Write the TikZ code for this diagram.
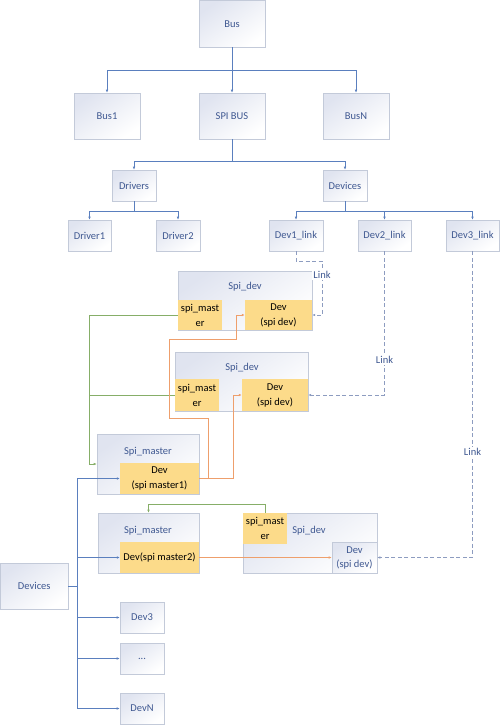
\documentclass[tikz,border=0pt]{standalone}
\usepackage{fontspec}
\setmainfont{Carlito}
\usetikzlibrary{arrows.meta}
\definecolor{txtb}{HTML}{3F5891}
\definecolor{bord}{HTML}{C3CAD9}
\definecolor{btop}{HTML}{E0E4F0}
\definecolor{yel}{HTML}{FCDB8A}
\definecolor{lnb}{HTML}{5A7FBE}
\definecolor{lng}{HTML}{86AE68}
\definecolor{lno}{HTML}{EE9F6C}
\definecolor{lnd}{HTML}{8D9CC0}
\tikzset{
  bx/.style={draw=bord, line width=0.6pt, top color=btop, bottom color=white, shading angle=35,
    inner sep=0pt, text=txtb, align=center, font=\fontsize{10.5}{14}\selectfont},
  yb/.style={fill=yel, inner sep=0pt, text=black, align=center, font=\fontsize{10.5}{15}\selectfont},
  lbl/.style={text=txtb, inner sep=1pt, font=\fontsize{10.5}{14}\selectfont},
  tip/.style={-{Latex[length=3pt,width=2.6pt]}},
  cb/.style={draw=lnb, line width=0.6pt},
  cg/.style={draw=lng, line width=0.6pt},
  co/.style={draw=lno, line width=0.6pt},
  cd/.style={draw=lnd, line width=0.6pt, dash pattern=on 4pt off 2.5pt},
}
\newcommand{\bxat}[7]{% name, x1,y1,x2,y2, style, text
  \node[#6, minimum width=#4pt-#2pt, minimum height=#5pt-#3pt] (#1) at ({(#2+#4)/2},{(#3+#5)/2}) {#7};}
\begin{document}
\begin{tikzpicture}[x=1pt,y=-1pt]
\useasboundingbox[fill=white] (0,0) rectangle (500,725);
% top tree
\bxat{bus}{199}{0.5}{265}{47}{bx}{Bus}
\bxat{bus1}{74}{93}{140}{139}{bx}{Bus1}
\bxat{spibus}{199}{93}{265}{139}{bx}{SPI BUS}
\bxat{busn}{323}{93}{389}{139}{bx}{BusN}
\bxat{drivers}{112}{170}{156}{201}{bx}{Drivers}
\bxat{devt}{323}{170}{367}{201}{bx}{Devices}
\bxat{driver1}{68}{220}{111}{251}{bx}{Driver1}
\bxat{driver2}{156}{220}{200}{251}{bx}{Driver2}
\bxat{dl1}{269}{220}{323}{251}{bx}{Dev1\_link}
\bxat{dl2}{358}{220}{411}{251}{bx}{Dev2\_link}
\bxat{dl3}{446}{220}{499}{251}{bx}{Dev3\_link}
% spi_dev 1
\bxat{sd1}{178}{271}{312}{330}{bx}{}
\node[lbl] (sd1t) at (245,287) {Spi\_dev};
\bxat{sm1}{178}{300}{222}{330}{yb}{spi\_mast\\er}
\bxat{dv1}{245}{300}{312}{330}{yb}{Dev\\(spi dev)}
% spi_dev 2
\bxat{sd2}{175}{352}{308}{411}{bx}{}
\node[lbl] (sd2t) at (242,368) {Spi\_dev};
\bxat{sm2}{175}{379}{219}{411}{yb}{spi\_mast\\er}
\bxat{dv2}{242}{379}{308}{411}{yb}{Dev\\(spi dev)}
% spi_master 1
\bxat{pm1}{97}{434}{199}{494}{bx}{}
\node[lbl] (pm1t) at (148,452) {Spi\_master};
\bxat{dm1}{120}{463}{199}{494}{yb}{Dev\\(spi master1)}
% spi_master 2
\bxat{pm2}{98}{513}{199}{573}{bx}{}
\node[lbl] (pm2t) at (148,531) {Spi\_master};
\bxat{dm2}{120}{542}{199}{573}{yb}{Dev(spi master2)}
% spi_dev 3
\bxat{sd3}{243}{513}{377}{573}{bx}{}
\node[lbl] (sd3t) at (309,531) {Spi\_dev};
\bxat{sm3}{243}{513}{287}{544}{yb}{spi\_mast\\er}
\bxat{dv3}{332}{542}{377}{573}{bx}{Dev\\(spi dev)}
% devices bottom
\bxat{devb}{0.5}{563}{68}{609}{bx}{Devices}
\bxat{dev3}{120}{602}{164}{633}{bx}{Dev3}
\bxat{dots}{120}{643}{164}{674}{bx}{...}
\bxat{devn}{120}{693}{164}{724}{bx}{DevN}

% tree connectors
\draw[cb,tip] (bus.south) -- ++(0,23) -| (bus1.north);
\draw[cb,tip] (bus.south) -- (spibus.north);
\draw[cb,tip] (bus.south) -- ++(0,23) -| (busn.north);
\draw[cb,tip] (spibus.south) -- ++(0,22) -| (drivers.north);
\draw[cb,tip] (spibus.south) -- ++(0,22) -| (devt.north);
\draw[cb,tip] (drivers.south) -- ++(0,10) -| (driver1.north);
\draw[cb,tip] (drivers.south) -- ++(0,10) -| (driver2.north);
\draw[cb,tip] (devt.south) -- ++(0,10) -| (dl1.north);
\draw[cb,tip] (devt.south) -- ++(0,10) -| (dl2.north);
\draw[cb,tip] (devt.south) -- ++(0,10) -| (dl3.north);

% dashed links
\draw[cd,tip] (dl1.south) -- ++(0,10) -- ++(26,0) |- (dv1.east);
\node[lbl,fill=white] (lk1) at (322,275) {Link};
\draw[cd,tip] (dl2.south) |- (dv2.east);
\node[lbl,fill=white] (lk2) at (384.5,360) {Link};
\draw[cd,tip] (dl3.south) |- (dv3.east);
\node[lbl,fill=white] (lk3) at (472.5,452) {Link};

% green
\draw[cg,tip] (sm1.west) -- ++(-89,0) |- (pm1.west);
\draw[cg] (sm2.west) -- ++(-86,0);
\draw[cg,tip] (sm3.north) -- ++(0,-9) -| (pm2.north);

% orange
\draw[co,tip] (dm1.east) -- ++(9,0) -- ++(0,-60) -- ++(-39,0) -- ++(0,-79) -- ++(67,0) |- (dv1.west);
\draw[co,tip] (dm1.east) -- ++(34,0) |- (dv2.west);
\draw[co,tip] (dm2.east) -- (dv3.west);

% blue bottom trunk
\draw[cb] (devb.east) -- ++(9,0) coordinate (tr);
\draw[cb,tip] (tr) |- (dm1.west);
\draw[cb,tip] (tr) |- (dm2.west);
\draw[cb,tip] (tr) |- (dev3.west);
\draw[cb,tip] (tr) |- (dots.west);
\draw[cb,tip] (tr) |- (devn.west);
\end{tikzpicture}
\end{document}
